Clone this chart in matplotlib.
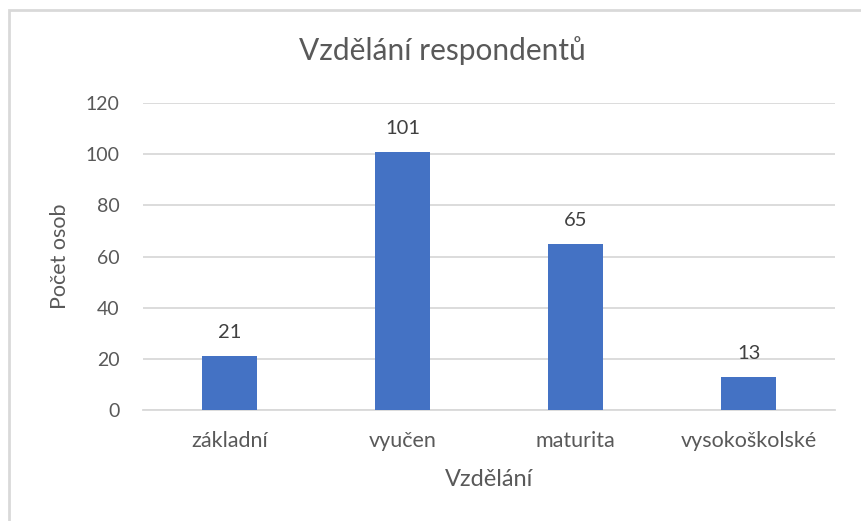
import matplotlib.pyplot as plt
from matplotlib.patches import Rectangle

categories = ['základní', 'vyučen', 'maturita', 'vysokoškolské']
counts = [21, 101, 65, 13]
y_ticks = [0, 20, 40, 60, 80, 100, 120]

plt.rcParams['font.family'] = ['Lato', 'DejaVu Sans']
text_color = '#595959'

fig = plt.figure(figsize=(8.61, 5.21), dpi=100)
ax = fig.add_axes([0.166, 0.213, 0.804, 0.589])

# rámeček grafu (pravý a dolní okraj je mimo obrázek)
fig.patches.append(Rectangle((0.0105, -0.05), 1.1, 1.031, transform=fig.transFigure,
                             fill=False, edgecolor='#D9D9D9', linewidth=2))

x = range(len(categories))
bars = ax.bar(x, counts, width=0.32, color='#4472C4', zorder=3)

for rect, v in zip(bars, counts):
    ax.annotate(str(v), (rect.get_x() + rect.get_width() / 2, v),
                xytext=(0, 13), textcoords='offset points',
                ha='center', va='baseline', fontsize=14.5, color='#404040')

ax.set_xlim(-0.5, len(categories) - 0.5)
ax.set_ylim(0, 120)
ax.set_yticks(y_ticks)
ax.set_xticks(list(x))
ax.set_xticklabels(categories)
ax.grid(axis='y', color='#D9D9D9', linewidth=1.3, zorder=0)
ax.tick_params(axis='both', length=0, labelcolor=text_color)
ax.tick_params(axis='y', pad=17, labelsize=14)
ax.tick_params(axis='x', pad=15, labelsize=15.5)
for s in ['top', 'right', 'left']:
    ax.spines[s].set_visible(False)
ax.spines['bottom'].set_color('#D9D9D9')
ax.spines['bottom'].set_linewidth(1.3)

fig.text(442 / 861, 1 - 60 / 521, 'Vzdělání respondentů', fontsize=21.5,
         color=text_color, ha='center', va='baseline')
ax.set_xlabel('Vzdělání', fontsize=17, color=text_color, labelpad=13)
ax.set_ylabel('Počet osob', fontsize=15.5, color=text_color, labelpad=11)

plt.savefig('out.png', dpi=100)
